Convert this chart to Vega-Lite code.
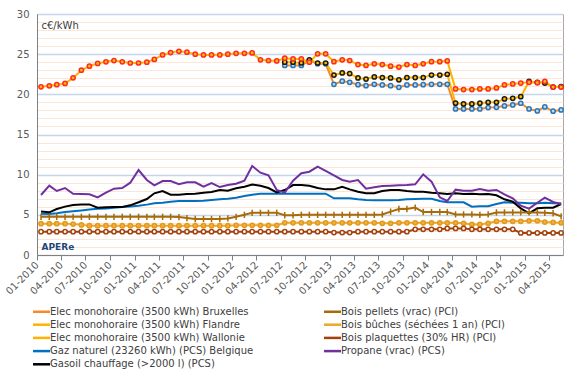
{
"$schema":"https://vega.github.io/schema/vega-lite/v6.json",
"width":526,"height":241,
"autosize":{"type":"none"},
"padding":{"left":37,"top":14,"right":17,"bottom":116},
"background":"white",
"config":{"font":"DejaVu Sans","view":{"stroke":"#a6a6a6","strokeWidth":1}},
"datasets":{"names":[
{"k":"Bru","serie":"Elec monohoraire (3500 kWh) Bruxelles"},
{"k":"Fla","serie":"Elec monohoraire (3500 kWh) Flandre"},
{"k":"Wal","serie":"Elec monohoraire (3500 kWh) Wallonie"},
{"k":"Gaz","serie":"Gaz naturel (23260 kWh) (PCS) Belgique"},
{"k":"Gas","serie":"Gasoil chauffage (>2000 l) (PCS)"},
{"k":"Pel","serie":"Bois pellets (vrac) (PCI)"},
{"k":"Buc","serie":"Bois bûches (séchées 1 an) (PCI)"},
{"k":"Pla","serie":"Bois plaquettes (30% HR) (PCI)"},
{"k":"Pro","serie":"Propane (vrac) (PCS)"}
]},
"data":{"values":[
{"m":"2010-01-01","Wal":20.93,"Gaz":5.15,"Gas":5.4,"Pro":7.47,"Pel":4.75,"Buc":3.9,"Pla":2.9},
{"m":"2010-02-01","Wal":21.06,"Gaz":5.1,"Gas":5.31,"Pro":8.63,"Pel":4.75,"Buc":3.9,"Pla":2.9},
{"m":"2010-03-01","Wal":21.2,"Gaz":5.2,"Gas":5.73,"Pro":7.97,"Pel":4.75,"Buc":3.9,"Pla":2.9},
{"m":"2010-04-01","Wal":21.35,"Gaz":5.35,"Gas":6.02,"Pro":8.34,"Pel":4.75,"Buc":3.9,"Pla":2.9},
{"m":"2010-05-01","Wal":22.05,"Gaz":5.45,"Gas":6.22,"Pro":7.63,"Pel":4.75,"Buc":3.85,"Pla":2.9},
{"m":"2010-06-01","Wal":23.0,"Gaz":5.55,"Gas":6.3,"Pro":7.6,"Pel":4.75,"Buc":3.75,"Pla":2.9},
{"m":"2010-07-01","Wal":23.5,"Gaz":5.65,"Gas":6.3,"Pro":7.55,"Pel":4.75,"Buc":3.65,"Pla":2.9},
{"m":"2010-08-01","Wal":23.85,"Gaz":5.75,"Gas":5.89,"Pro":7.18,"Pel":4.75,"Buc":3.65,"Pla":2.9},
{"m":"2010-09-01","Wal":24.05,"Gaz":5.8,"Gas":5.93,"Pro":7.76,"Pel":4.75,"Buc":3.65,"Pla":2.9},
{"m":"2010-10-01","Wal":24.2,"Gaz":5.88,"Gas":5.98,"Pro":8.26,"Pel":4.75,"Buc":3.65,"Pla":2.9},
{"m":"2010-11-01","Wal":24.05,"Gaz":5.96,"Gas":5.98,"Pro":8.34,"Pel":4.75,"Buc":3.65,"Pla":2.9},
{"m":"2010-12-01","Wal":23.9,"Gaz":6.05,"Gas":6.18,"Pro":9.0,"Pel":4.75,"Buc":3.65,"Pla":2.9},
{"m":"2011-01-01","Wal":23.9,"Gaz":6.14,"Gas":6.56,"Pro":10.58,"Pel":4.75,"Buc":3.65,"Pla":2.9},
{"m":"2011-02-01","Wal":24.0,"Gaz":6.27,"Gas":6.97,"Pro":9.34,"Pel":4.75,"Buc":3.65,"Pla":2.9},
{"m":"2011-03-01","Wal":24.35,"Gaz":6.43,"Gas":7.68,"Pro":8.67,"Pel":4.75,"Buc":3.65,"Pla":2.9},
{"m":"2011-04-01","Wal":24.9,"Gaz":6.51,"Gas":7.97,"Pro":9.2,"Pel":4.75,"Buc":3.65,"Pla":2.9},
{"m":"2011-05-01","Wal":25.2,"Gaz":6.64,"Gas":7.51,"Pro":9.2,"Pel":4.75,"Buc":3.65,"Pla":2.9},
{"m":"2011-06-01","Wal":25.35,"Gaz":6.72,"Gas":7.51,"Pro":8.8,"Pel":4.72,"Buc":3.65,"Pla":2.9},
{"m":"2011-07-01","Wal":25.25,"Gaz":6.72,"Gas":7.6,"Pro":9.05,"Pel":4.6,"Buc":3.65,"Pla":2.9},
{"m":"2011-08-01","Wal":25.0,"Gaz":6.72,"Gas":7.63,"Pro":9.05,"Pel":4.48,"Buc":3.65,"Pla":2.9},
{"m":"2011-09-01","Wal":24.9,"Gaz":6.76,"Gas":7.76,"Pro":8.5,"Pel":4.48,"Buc":3.65,"Pla":2.9},
{"m":"2011-10-01","Wal":24.9,"Gaz":6.85,"Gas":7.84,"Pro":8.96,"Pel":4.48,"Buc":3.65,"Pla":2.9},
{"m":"2011-11-01","Wal":24.9,"Gaz":6.93,"Gas":8.09,"Pro":8.46,"Pel":4.48,"Buc":3.65,"Pla":2.9},
{"m":"2011-12-01","Wal":25.0,"Gaz":7.01,"Gas":8.0,"Pro":8.71,"Pel":4.55,"Buc":3.65,"Pla":2.9},
{"m":"2012-01-01","Wal":25.1,"Gaz":7.14,"Gas":8.3,"Pro":8.88,"Pel":4.75,"Buc":3.7,"Pla":2.9},
{"m":"2012-02-01","Wal":25.1,"Gaz":7.34,"Gas":8.5,"Pro":9.25,"Pel":5.0,"Buc":3.7,"Pla":2.9},
{"m":"2012-03-01","Wal":25.15,"Gaz":7.51,"Gas":8.76,"Pro":11.08,"Pel":5.25,"Buc":3.7,"Pla":2.9},
{"m":"2012-04-01","Wal":24.3,"Gaz":7.63,"Gas":8.63,"Pro":10.25,"Pel":5.25,"Buc":3.7,"Pla":2.9},
{"m":"2012-05-01","Wal":24.2,"Gaz":7.63,"Gas":8.34,"Pro":9.92,"Pel":5.25,"Buc":3.7,"Pla":2.9},
{"m":"2012-06-01","Wal":24.15,"Gaz":7.63,"Gas":7.8,"Pro":8.1,"Pel":5.25,"Buc":3.7,"Pla":2.9},
{"m":"2012-07-01","Wal":24.5,"Gaz":7.63,"Gas":8.09,"Pro":7.76,"Pel":4.95,"Buc":4.0,"Pla":2.9,"Fla":24.0,"Bru":23.6},
{"m":"2012-08-01","Wal":24.4,"Gaz":7.63,"Gas":8.71,"Pro":9.25,"Pel":4.95,"Buc":4.0,"Pla":2.9,"Fla":24.0,"Bru":23.6},
{"m":"2012-09-01","Wal":24.4,"Gaz":7.63,"Gas":8.71,"Pro":10.17,"Pel":5.0,"Buc":4.0,"Pla":2.9,"Fla":23.9,"Bru":23.6},
{"m":"2012-10-01","Wal":24.0,"Gaz":7.63,"Gas":8.63,"Pro":10.37,"Pel":5.0,"Buc":4.0,"Pla":2.9,"Fla":24.3,"Bru":24.2},
{"m":"2012-11-01","Wal":25.05,"Gaz":7.63,"Gas":8.34,"Pro":11.0,"Pel":5.0,"Buc":4.0,"Pla":2.9,"Fla":23.9,"Bru":23.8},
{"m":"2012-12-01","Wal":25.05,"Gaz":7.63,"Gas":8.17,"Pro":10.46,"Pel":5.0,"Buc":4.0,"Pla":2.9,"Fla":23.9,"Bru":23.8},
{"m":"2013-01-01","Wal":24.07,"Gaz":7.05,"Gas":8.17,"Pro":9.92,"Pel":5.0,"Buc":4.0,"Pla":2.8,"Fla":22.4,"Bru":21.25},
{"m":"2013-02-01","Wal":24.3,"Gaz":7.05,"Gas":8.5,"Pro":9.34,"Pel":5.0,"Buc":4.0,"Pla":2.8,"Fla":22.66,"Bru":21.63},
{"m":"2013-03-01","Wal":24.2,"Gaz":7.05,"Gas":8.17,"Pro":9.13,"Pel":5.0,"Buc":4.0,"Pla":2.8,"Fla":22.58,"Bru":21.5},
{"m":"2013-04-01","Wal":23.7,"Gaz":6.93,"Gas":7.88,"Pro":9.34,"Pel":5.0,"Buc":4.0,"Pla":2.9,"Fla":22.04,"Bru":21.2},
{"m":"2013-05-01","Wal":23.6,"Gaz":6.85,"Gas":7.68,"Pro":8.26,"Pel":5.0,"Buc":4.0,"Pla":2.9,"Fla":21.9,"Bru":21.08},
{"m":"2013-06-01","Wal":23.8,"Gaz":6.8,"Gas":7.68,"Pro":8.42,"Pel":5.0,"Buc":4.0,"Pla":2.9,"Fla":22.17,"Bru":21.25},
{"m":"2013-07-01","Wal":23.7,"Gaz":6.8,"Gas":7.97,"Pro":8.59,"Pel":5.05,"Buc":3.95,"Pla":2.9,"Fla":22.08,"Bru":21.17},
{"m":"2013-08-01","Wal":23.5,"Gaz":6.8,"Gas":8.09,"Pro":8.63,"Pel":5.4,"Buc":3.95,"Pla":2.9,"Fla":22.04,"Bru":21.08},
{"m":"2013-09-01","Wal":23.4,"Gaz":6.85,"Gas":8.09,"Pro":8.67,"Pel":5.73,"Buc":4.0,"Pla":2.9,"Fla":21.8,"Bru":20.88},
{"m":"2013-10-01","Wal":23.7,"Gaz":6.93,"Gas":7.97,"Pro":8.71,"Pel":5.73,"Buc":4.0,"Pla":2.9,"Fla":22.08,"Bru":21.17},
{"m":"2013-11-01","Wal":23.6,"Gaz":6.97,"Gas":7.88,"Pro":8.8,"Pel":5.9,"Buc":4.0,"Pla":3.2,"Fla":22.08,"Bru":21.17},
{"m":"2013-12-01","Wal":23.8,"Gaz":7.01,"Gas":7.88,"Pro":10.04,"Pel":5.35,"Buc":4.0,"Pla":3.2,"Fla":22.08,"Bru":21.2},
{"m":"2014-01-01","Wal":24.07,"Gaz":7.01,"Gas":7.76,"Pro":9.13,"Pel":5.35,"Buc":4.0,"Pla":3.2,"Fla":22.4,"Bru":21.25},
{"m":"2014-02-01","Wal":24.07,"Gaz":6.72,"Gas":7.68,"Pro":7.18,"Pel":5.35,"Buc":4.0,"Pla":3.2,"Fla":22.4,"Bru":21.25},
{"m":"2014-03-01","Wal":24.16,"Gaz":6.56,"Gas":7.6,"Pro":6.72,"Pel":5.35,"Buc":4.0,"Pla":3.3,"Fla":22.5,"Bru":21.25},
{"m":"2014-04-01","Wal":20.67,"Gaz":6.56,"Gas":7.68,"Pro":8.13,"Pel":5.05,"Buc":4.0,"Pla":3.3,"Fla":18.9,"Bru":18.18},
{"m":"2014-05-01","Wal":20.6,"Gaz":6.56,"Gas":7.6,"Pro":8.0,"Pel":5.05,"Buc":3.95,"Pla":3.3,"Fla":18.8,"Bru":18.18},
{"m":"2014-06-01","Wal":20.6,"Gaz":6.02,"Gas":7.63,"Pro":8.0,"Pel":5.05,"Buc":3.8,"Pla":3.2,"Fla":18.8,"Bru":18.18},
{"m":"2014-07-01","Wal":20.67,"Gaz":6.06,"Gas":7.55,"Pro":8.22,"Pel":5.0,"Buc":3.8,"Pla":3.2,"Fla":18.9,"Bru":18.18},
{"m":"2014-08-01","Wal":20.67,"Gaz":6.06,"Gas":7.6,"Pro":8.0,"Pel":5.05,"Buc":3.95,"Pla":3.2,"Fla":19.0,"Bru":18.35},
{"m":"2014-09-01","Wal":20.8,"Gaz":6.35,"Gas":7.43,"Pro":8.1,"Pel":5.3,"Buc":4.2,"Pla":3.2,"Fla":19.0,"Bru":18.39},
{"m":"2014-10-01","Wal":21.17,"Gaz":6.56,"Gas":6.93,"Pro":7.55,"Pel":5.3,"Buc":4.2,"Pla":3.2,"Fla":19.43,"Bru":18.55},
{"m":"2014-11-01","Wal":21.3,"Gaz":6.51,"Gas":6.64,"Pro":7.05,"Pel":5.3,"Buc":4.2,"Pla":3.2,"Fla":19.5,"Bru":18.68},
{"m":"2014-12-01","Wal":21.4,"Gaz":6.51,"Gas":5.81,"Pro":6.14,"Pel":5.3,"Buc":4.2,"Pla":2.75,"Fla":19.7,"Bru":18.89},
{"m":"2015-01-01","Wal":21.5,"Gaz":6.43,"Gas":5.19,"Pro":5.77,"Pel":5.3,"Buc":4.25,"Pla":2.75,"Fla":21.6,"Bru":18.18},
{"m":"2015-02-01","Wal":21.45,"Gaz":6.43,"Gas":5.81,"Pro":6.51,"Pel":5.3,"Buc":4.25,"Pla":2.75,"Fla":21.5,"Bru":17.93},
{"m":"2015-03-01","Wal":21.6,"Gaz":6.51,"Gas":5.89,"Pro":7.14,"Pel":5.25,"Buc":4.1,"Pla":2.75,"Fla":21.4,"Bru":18.43},
{"m":"2015-04-01","Wal":20.9,"Gaz":6.43,"Gas":5.89,"Pro":6.6,"Pel":5.2,"Buc":4.05,"Pla":2.75,"Fla":20.9,"Bru":17.9},
{"m":"2015-05-01","Wal":20.9,"Gaz":6.43,"Gas":6.35,"Pro":6.31,"Pel":4.8,"Buc":4.0,"Pla":2.75,"Fla":20.97,"Bru":18.06}
]},
"transform":[
{"fold":["Bru","Fla","Wal","Gaz","Gas","Pel","Buc","Pla","Pro"],"as":["k","v"]},
{"filter":"isValid(datum.v)"},
{"lookup":"k","from":{"data":{"name":"names"},"key":"k","fields":["serie"]}}
],
"encoding":{
"x":{"field":"m","type":"temporal",
 "scale":{"type":"utc","nice":false,"domain":[{"year":2009,"month":12,"date":17,"utc":true},{"year":2015,"month":5,"date":8,"utc":true}]},
 "axis":{"title":"APERe","titleX":4,"titleY":-9,"titleAlign":"left","titleBaseline":"middle","titleAngle":0,"titleFontSize":9,"titleFontWeight":"bold","titleColor":"#24467c",
  "tickCount":{"interval":"month","step":3},"labelExpr":"utcFormat(datum.value,'%m-%Y')",
  "labelAngle":-45,"labelAlign":"right","labelBaseline":"middle","labelFontSize":10,"labelColor":"#595959","labelPadding":3,
  "tickOffset":-4,"tickSize":5,"tickColor":"#808080","domainColor":"#808080","grid":false,"labelOverlap":false,"labelBound":false,"labelFlush":false}},
"y":{"field":"v","type":"quantitative",
 "scale":{"domain":[0,30],"nice":false,"zero":true},
 "axis":{"title":"c€/kWh","titleAngle":0,"titleX":4,"titleY":11,"titleAlign":"left","titleBaseline":"middle","titleFontSize":10,"titleFontWeight":"normal","titleColor":"#404040",
  "values":[0,1,2,3,4,5,6,7,8,9,10,11,12,13,14,15,16,17,18,19,20,21,22,23,24,25,26,27,28,29,30],
  "labelExpr":"datum.value % 5 === 0 ? datum.label : ''","ticks":false,"labelPadding":8,"labelFontSize":10,"labelColor":"#595959","domainColor":"#808080",
  "gridColor":{"condition":{"test":"datum.value % 5 === 0","value":"#c5d5ea"},"value":"#fde4d4"},
  "gridWidth":{"condition":{"test":"datum.value % 5 === 0","value":1.5},"value":1},"gridOpacity":1}}
},
"layer":[
{"mark":{"type":"line","strokeWidth":2},
 "encoding":{"color":{"field":"serie","type":"nominal",
  "scale":{"domain":["Elec monohoraire (3500 kWh) Bruxelles","Elec monohoraire (3500 kWh) Flandre","Elec monohoraire (3500 kWh) Wallonie","Gaz naturel (23260 kWh) (PCS) Belgique","Gasoil chauffage (>2000 l) (PCS)","Bois pellets (vrac) (PCI)","Bois bûches (séchées 1 an) (PCI)","Bois plaquettes (30% HR) (PCI)","Propane (vrac) (PCS)"],
   "range":["#f28c28","#ffb300","#ffb300","#0070c0","#000000","#a86b08","#eda72a","#a4420e","#7030a0"]},
  "legend":{"orient":"none","legendX":-2,"legendY":291,"columns":2,"columnPadding":65,"rowPadding":1.2,"symbolType":"M-1.7,0H1.7","symbolSize":100,"symbolStrokeWidth":2.5,"labelFontSize":10,"labelColor":"#404040","labelOffset":2,"labelLimit":400,"title":null,"padding":0}}}},
{"transform":[{"filter":{"field":"k","oneOf":["Bru","Fla","Wal","Buc","Pla"]}}],
 "mark":{"type":"circle","size":18,"strokeWidth":1.5,"opacity":1},
 "encoding":{
  "stroke":{"field":"k","type":"nominal","scale":{"domain":["Bru","Fla","Wal","Buc","Pla"],"range":["#2e75b6","#1a1a1a","#ff2a2a","#e29a1c","#a4420e"]},"legend":null},
  "fill":{"field":"k","type":"nominal","scale":{"domain":["Bru","Fla","Wal","Buc","Pla"],"range":["#bdd7ee","#ffc000","#ffc000","#f2b040","#ffffff"]},"legend":null}}},
{"transform":[{"filter":"datum.k === 'Pel'"}],
 "mark":{"type":"point","shape":"M0,-1L0,1","size":40,"strokeWidth":1.5,"filled":false,"color":"#a86b08","opacity":1}}
]
}
